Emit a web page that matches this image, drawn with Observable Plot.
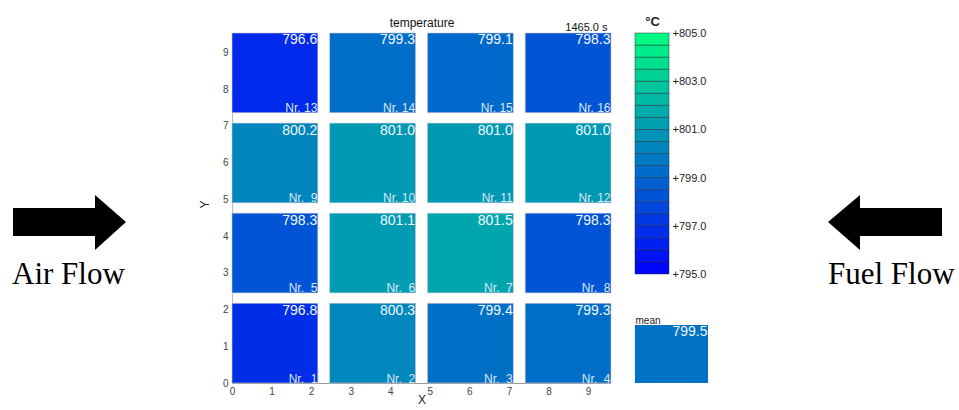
<!DOCTYPE html>
<html>
<head>
<meta charset="utf-8">
<script src="https://cdn.jsdelivr.net/npm/d3@7"></script>
<script src="https://cdn.jsdelivr.net/npm/@observablehq/plot@0.6"></script>
<style>
  html, body { margin: 0; padding: 0; background: #fff; }
  #wrap { position: relative; width: 959px; height: 410px; overflow: hidden; font-family: "Liberation Sans", Arial, sans-serif; }
  .abs { position: absolute; }
  .flow { position: absolute; font-family: "Liberation Serif", "Times New Roman", serif; font-size: 31px; line-height: 31px; color: #000; white-space: nowrap; }
</style>
</head>
<body>
<div id="wrap">
  <svg class="abs" style="left:0;top:180px" width="140" height="80">
    <polygon points="13,28 95,28 95,15 126,42 95,70 95,56 13,56" fill="#000"/>
  </svg>
  <svg class="abs" style="left:810px;top:180px" width="149" height="80">
    <polygon points="132,28 50,28 50,15 18,42 50,70 50,56 132,56" fill="#000"/>
  </svg>
  <div class="flow" style="left:12px;top:258px">Air Flow</div>
  <div class="flow" style="left:828px;top:258px">Fuel Flow</div>
  <div id="main" class="abs" style="left:190px;top:0"></div>
  <div id="cbar" class="abs" style="left:600px;top:0"></div>
  <div id="mean" class="abs" style="left:630px;top:300px"></div>
</div>
<script>
// ---- data ----
const cellNr     = [1, 2, 3, 4, 5, 6, 7, 8, 9, 10, 11, 12, 13, 14, 15, 16];
const cellValues = [796.8, 800.3, 799.4, 799.3, 798.3, 801.1, 801.5, 798.3,
                    800.2, 801.0, 801.0, 801.0, 796.6, 799.3, 799.1, 798.3];
const meanValue  = 799.5;
const timeLabel  = "1465.0 s";
const colorDomain = [795, 805];
const colorTicks  = [795, 797, 799, 801, 803, 805];
const colorBandStep = 0.5;

// ---- layout constants ----
const CELL = 2.17, PITCH_X = 2.47, PITCH_Y = 2.45;
const FONT = "Liberation Sans, Arial, sans-serif";
const colorRange = ["rgb(0,0,255)", "rgb(0,255,128)"];

const cells = cellNr.map((n, i) => {
  const col = (n - 1) % 4, row = Math.floor((n - 1) / 4);
  return {
    nr: n, value: cellValues[i],
    x1: col * PITCH_X, x2: col * PITCH_X + CELL,
    y1: row * PITCH_Y, y2: row * PITCH_Y + CELL
  };
});

const colorScale = {type: "linear", domain: colorDomain, range: colorRange, interpolate: "rgb"};
const nrLabel = d => "Nr." + (d.nr < 10 ? "\u00a0\u00a0" : "\u00a0") + d.nr;

const main = Plot.plot({
  width: 440, height: 410,
  marginLeft: 42, marginRight: 19, marginTop: 33, marginBottom: 27,
  style: {fontFamily: FONT, background: "transparent", overflow: "visible", color: "#444"},
  x: {domain: [0, 3 * PITCH_X + CELL], ticks: 10, tickSize: 0, tickPadding: 4, label: null},
  y: {domain: [0, 3 * PITCH_Y + CELL], ticks: 10, tickSize: 0, tickPadding: 4, label: null},
  color: colorScale,
  marks: [
    Plot.ruleY([0], {stroke: "#999", strokeWidth: 1}),
    Plot.ruleX([0], {stroke: "#bbb", strokeWidth: 1}),
    Plot.rect(cells, {x1: "x1", x2: "x2", y1: "y1", y2: "y2", fill: "value", stroke: "#c8c8d8", strokeWidth: 0.6}),
    Plot.text(cells, {x: "x2", y: "y2", text: d => d.value.toFixed(1), textAnchor: "end", lineAnchor: "top",
                      dx: -1, dy: 1, fill: "#f4f8ff", fontSize: 14}),
    Plot.text(cells, {x: "x2", y: "y1", text: nrLabel, textAnchor: "end", lineAnchor: "bottom",
                      dx: -1, dy: -1, fill: "#dde8f8", fontSize: 12}),
    Plot.text(["temperature"], {frameAnchor: "top", dy: -15, fontSize: 12, fill: "#111"}),
    Plot.text([timeLabel], {frameAnchor: "top-right", textAnchor: "end", dx: -4, dy: -10, fontSize: 11, fill: "#111"}),
    Plot.text(["X"], {frameAnchor: "bottom", dy: 20, fontSize: 12, fill: "#222"}),
    Plot.text(["Y"], {frameAnchor: "left", dx: -27, rotate: -90, fontSize: 12, fill: "#222"})
  ]
});
main.style.fontSize = "10px";
document.getElementById("main").appendChild(main);

// colour bar
const bands = d3.range(colorDomain[0], colorDomain[1], colorBandStep).map(v => ({lo: v, hi: v + colorBandStep, mid: v + colorBandStep / 2}));
const cbar = Plot.plot({
  width: 130, height: 300,
  marginLeft: 35, marginRight: 61, marginTop: 33, marginBottom: 26,
  style: {fontFamily: FONT, background: "transparent", overflow: "visible"},
  x: {domain: [0, 1], axis: null},
  y: {domain: colorDomain, axis: null},
  color: colorScale,
  marks: [
    Plot.rect(bands, {x1: () => 0, x2: () => 1, y1: "lo", y2: "hi", fill: "mid", stroke: "#223", strokeOpacity: 0.55, strokeWidth: 0.8}),
    Plot.text(colorTicks, {y: d => d, frameAnchor: "right", textAnchor: "start", dx: 3, text: d => "+" + d.toFixed(1), fontSize: 11, fill: "#222"}),
    Plot.text(["\u00b0C"], {frameAnchor: "top", dy: -17, fontSize: 13, fontWeight: "bold", fill: "#222"})
  ]
});
document.getElementById("cbar").appendChild(cbar);

// mean box
const meanPlot = Plot.plot({
  width: 90, height: 110,
  marginLeft: 5, marginRight: 12, marginTop: 25, marginBottom: 27,
  style: {fontFamily: FONT, background: "transparent", overflow: "visible"},
  x: {domain: [0, 1], axis: null},
  y: {domain: [0, 1], axis: null},
  color: colorScale,
  marks: [
    Plot.rect([meanValue], {x1: () => 0, x2: () => 1, y1: () => 0, y2: () => 1, fill: d => d}),
    Plot.text([meanValue], {frameAnchor: "top-right", textAnchor: "end", lineAnchor: "top", dx: -1, dy: 1, text: d => d.toFixed(1), fill: "#f4f8ff", fontSize: 14}),
    Plot.text(["mean"], {frameAnchor: "top-left", textAnchor: "start", dy: -9, fontSize: 10, fill: "#222"})
  ]
});
document.getElementById("mean").appendChild(meanPlot);
</script>
</body>
</html>
